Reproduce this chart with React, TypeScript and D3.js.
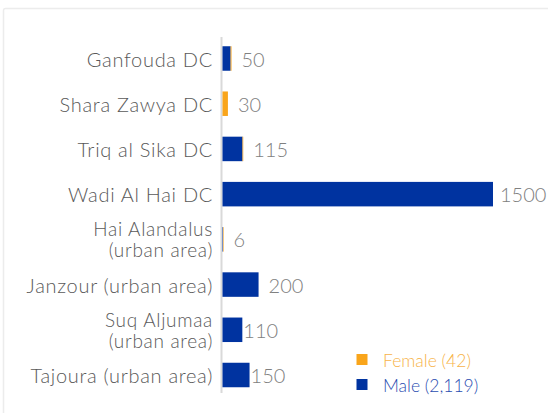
import React from "react";
import * as d3 from "d3";

const categories = [
  "Ganfouda DC",
  "Shara Zawya DC",
  "Triq al Sika DC",
  "Wadi Al Hai DC",
  "Hai Alandalus\n(urban area)",
  "Janzour (urban area)",
  "Suq Aljumaa\n(urban area)",
  "Tajoura (urban area)",
];
const male = [45, 0, 111, 1500, 3, 200, 110, 150];
const female = [5, 30, 4, 0, 3, 0, 0, 0];
const totals = [50, 30, 115, 1500, 6, 200, 110, 150];
const legendLabels = ["Female (42)", "Male (2,119)"];

const W = 548;
const H = 413;
const BLUE = "#0033A0";
const ORANGE = "#F9A51B";
const FONT = "Lato, 'Open Sans', sans-serif";

export default function App() {
  const x = d3
    .scaleLinear()
    .domain([0, d3.max(totals) as number])
    .range([222.5, 493]);
  const y = d3.scalePoint<string>().domain(categories).range([58.5, 375]);
  const barH = 24.5;
  const labelGap = (i: number) => (i >= 6 ? 1 : i === 3 ? 7 : 10);

  return (
    <svg
      width={W}
      height={H}
      style={{ position: "absolute", left: 0, top: 0, background: "#fff" }}
      fontFamily={FONT}
      fontWeight={300}
    >
      <rect x={3.5} y={8.5} width={600} height={500} fill="none" stroke="#ececec" strokeWidth={1.5} rx={2} />
      <line x1={221.5} x2={221.5} y1={37} y2={393} stroke="#d9d9d9" strokeWidth={2} />
      {categories.map((c, i) => {
        const cy = y(c) as number;
        const lines = c.split("\n");
        const x0 = x(0);
        const xm = x(male[i]);
        const xf = x(male[i] + female[i]);
        return (
          <g key={c}>
            {lines.map((ln, j) => (
              <text
                key={j}
                x={213}
                y={cy + (lines.length === 1 ? 0 : j === 0 ? -10.5 : 10.5)}
                textAnchor="end"
                dominantBaseline="central"
                fontSize={lines.length === 1 ? 20 : 19}
                letterSpacing={0.7}
                fill="#595959"
              >
                {ln}
              </text>
            ))}
            {male[i] > 0 && (
              <rect x={x0} y={cy - barH / 2} width={xm - x0} height={barH} fill={BLUE} />
            )}
            {female[i] > 0 && (
              <rect x={xm} y={cy - barH / 2} width={xf - xm} height={barH} fill={ORANGE} />
            )}
            <text
              x={x(totals[i]) + labelGap(i)}
              y={cy}
              dominantBaseline="central"
              fontSize={20}
              fill="#808080"
            >
              {totals[i]}
            </text>
          </g>
        );
      })}
      {legendLabels.map((l, i) => (
        <g key={l}>
          <rect x={356.5} y={354 + i * 25} width={11} height={11} fill={i === 0 ? ORANGE : BLUE} />
          <text
            x={383}
            y={360 + i * 25}
            dominantBaseline="central"
            fontSize={17.5}
            fill={i === 0 ? "#F7B349" : "#2A4DB0"}
          >
            {l}
          </text>
        </g>
      ))}
    </svg>
  );
}
